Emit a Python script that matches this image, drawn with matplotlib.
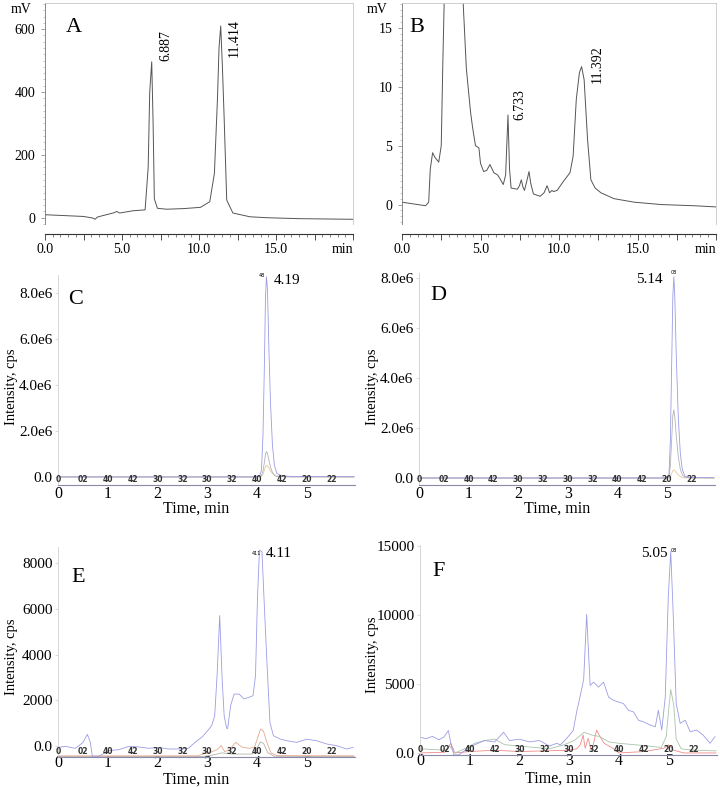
import matplotlib
matplotlib.use('Agg')
import matplotlib.pyplot as plt
from matplotlib.ticker import MultipleLocator, FixedLocator

plt.rcParams['font.family'] = ['Liberation Serif', 'DejaVu Serif']

W, H = 720, 787

# ---------------- Panel A (HPLC standard) ----------------
a_t = [0, 2.5, 3.1, 3.25, 3.4, 3.7, 4.5, 4.65, 4.85, 5.7, 6.5, 6.7, 6.8, 6.93, 7.02,
       7.1, 7.3, 7.9, 9.0, 10.1, 10.7, 11.0, 11.2, 11.3, 11.41, 11.52, 11.63, 11.8,
       12.2, 13.3, 14.4, 16.5, 20]
a_v = [9.5, 4, -1, -5, 2, 6, 16, 20, 15, 22, 25, 160, 400, 496, 300,
       60, 30, 27, 29, 33, 51, 141, 380, 540, 610, 480, 322, 56,
       15, 3, 0, -3, -5]
a_labels = ["6.887", "11.414"]

# ---------------- Panel B (HPLC sample) ----------------
b_t = [0, 1.5, 1.7, 1.8, 1.95, 2.1, 2.34, 2.5, 2.6, 2.7, 3.0, 3.5, 3.9, 4.1, 4.37,
       4.5, 4.68, 4.9, 5.0, 5.2, 5.4, 5.6, 5.85, 6.1, 6.28, 6.45, 6.6, 6.75, 6.85,
       6.95, 7.35, 7.48, 7.6, 7.7, 7.8, 7.95, 8.09, 8.2, 8.37, 8.8, 9.05, 9.24, 9.4,
       9.55, 9.66, 9.88, 10.3, 10.7, 10.9, 11.1, 11.3, 11.44, 11.6, 11.82, 12.03,
       12.3, 12.67, 13.5, 14.8, 16.5, 18.6, 20]
b_v = [0.2, -0.1, 0.2, 3.0, 4.4, 4.0, 3.6, 5.0, 12, 18, 28, 26, 17, 11.5, 7.8,
       6.5, 5.0, 4.8, 3.5, 2.8, 2.9, 3.4, 2.7, 2.5, 2.1, 1.7, 2.5, 7.6, 3.0,
       1.4, 1.3, 1.6, 2.1, 1.5, 1.2, 2.0, 2.8, 1.8, 0.9, 0.7, 1.0, 1.6, 1.0,
       1.2, 1.1, 1.2, 2.0, 2.7, 4.1, 8.9, 11.2, 11.7, 10.6, 5.5, 2.1,
       1.4, 1.0, 0.5, 0.2, 0.0, -0.1, -0.2]
b_labels = ["6.733", "11.392"]

# ---------------- Panel C (MRM standard 1) ----------------
c_t = [0, 3.9, 4.05, 4.09, 4.12, 4.15, 4.17, 4.19, 4.21, 4.24, 4.27, 4.31, 4.35,
       4.4, 4.5, 4.7, 5.95]
c_blue = [0, 0, 0.02e6, 0.3e6, 1.8e6, 5.0e6, 7.8e6, 8.7e6, 8.2e6, 5.5e6, 3.3e6,
          1.4e6, 0.5e6, 0.15e6, 0.05e6, 0.02e6, 0.01e6]
c_gray = [0, 0, 0.005e6, 0.05e6, 0.25e6, 0.65e6, 0.98e6, 1.1e6, 1.04e6, 0.72e6,
          0.44e6, 0.2e6, 0.07e6, 0.02e6, 0.008e6, 0, 0]
c_tan = [0, 0, 0.003e6, 0.03e6, 0.12e6, 0.3e6, 0.45e6, 0.5e6, 0.48e6, 0.38e6,
         0.27e6, 0.16e6, 0.08e6, 0.04e6, 0.015e6, 0.005e6, 0]

# ---------------- Panel D (MRM standard 2) ----------------
d_t = [0, 4.95, 5.04, 5.07, 5.1, 5.12, 5.14, 5.16, 5.19, 5.23, 5.27, 5.31, 5.36,
       5.45, 5.95]
d_blue = [0, 0, 0.05e6, 1.5e6, 5.0e6, 7.3e6, 8.05e6, 7.2e6, 4.8e6, 2.4e6, 1.0e6,
          0.35e6, 0.08e6, 0.02e6, 0.01e6]
d_gray = [0, 0, 0.02e6, 0.5e6, 1.7e6, 2.5e6, 2.72e6, 2.45e6, 1.65e6, 0.85e6,
          0.36e6, 0.12e6, 0.03e6, 0.01e6, 0]
d_tan = [0, 0, 0.003e6, 0.06e6, 0.2e6, 0.29e6, 0.32e6, 0.3e6, 0.22e6, 0.12e6,
         0.06e6, 0.02e6, 0.005e6, 0, 0]

# ---------------- Panel E (MRM sample 1) ----------------
e_blue_t = [0, 0.15, 0.35, 0.5, 0.59, 0.65, 0.69, 0.82, 1.02, 1.22, 1.42, 1.62,
            1.82, 2.02, 2.22, 2.49, 2.62, 2.75, 2.9, 3.02, 3.09, 3.15, 3.2, 3.25,
            3.30, 3.34, 3.39, 3.41, 3.47, 3.54, 3.64, 3.74, 3.84, 3.92, 3.97, 4.01,
            4.05, 4.10, 4.14, 4.20, 4.26, 4.33, 4.47, 4.6, 4.8, 5.0, 5.2, 5.4, 5.6,
            5.8, 5.93]
e_blue_v = [-60, -15, -100, 150, 510, 160, -450, -450, -200, -160, -15, -40,
            -100, -60, -130, -130, -100, 150, 400, 700, 900, 1320, 3200, 5700,
            2900, 1320, 780, 760, 1770, 2270, 2270, 2060, 2130, 2200, 3070, 6500,
            8560, 8500, 6500, 3650, 1030, 450, 300, 230, 160, 300, 230, 90, 15,
            -130, -60]
e_org_t = [0, 2.8, 2.95, 3.1, 3.2, 3.28, 3.35, 3.45, 3.57, 3.7, 3.85, 3.95, 4.02,
           4.07, 4.13, 4.2, 4.28, 4.4, 5.95]
e_org_v = [-430, -430, -330, -250, -150, 20, -250, -150, 160, -50, -100, -50, 400,
           740, 650, 150, -300, -420, -430]
e_gray_t = [0, 2.9, 3.1, 3.3, 3.5, 3.9, 4.0, 4.07, 4.13, 4.22, 4.35, 5.95]
e_gray_v = [-460, -460, -400, -300, -350, -350, -100, 180, 120, -300, -450, -460]

# ---------------- Panel F (MRM sample 2) ----------------
f_blue_t = [0, 0.12, 0.25, 0.38, 0.48, 0.57, 0.62, 0.68, 0.78, 0.92, 1.1, 1.3,
            1.5, 1.68, 1.8, 2.0, 2.2, 2.4, 2.6, 2.75, 2.82, 2.95, 3.08, 3.15, 3.22,
            3.29, 3.35, 3.42, 3.49, 3.59, 3.69, 3.79, 3.89, 3.99, 4.09, 4.19, 4.29,
            4.39, 4.49, 4.63, 4.73, 4.79, 4.86, 4.93, 4.99, 5.04, 5.09, 5.15, 5.23,
            5.33, 5.43, 5.56, 5.69, 5.83, 5.93]
f_blue_v = [1150, 1030, 1200, 960, 1150, 1630, 700, -140, -140, 220, 600, 900,
            800, 1500, 900, 1000, 800, 900, 500, 700, 580, 1060, 1630, 3010, 4130,
            5330, 10070, 4900, 5140, 4780, 5140, 4060, 3820, 3700, 3580, 3100, 2980,
            2380, 2260, 2020, 1900, 3100, 1660, 4060, 11270, 14640, 10070, 3580, 2140,
            2380, 1540, 1660, 1300, 700, 1180]
f_gray_t = [0, 0.5, 0.6, 0.7, 0.9, 1.1, 1.3, 1.5, 1.7, 2.0, 2.3, 2.6, 2.9, 3.1,
            3.3, 3.45, 3.6, 3.8, 4.0, 4.3, 4.6, 4.85, 4.95, 5.0, 5.04, 5.1, 5.15,
            5.25, 5.5, 5.95]
f_gray_v = [300, 200, 500, 0, 300, 700, 900, 1000, 600, 500, 400, 300, 600, 900,
            1500, 1300, 1200, 800, 700, 600, 500, 400, 1200, 3200, 4600, 3500, 1000,
            300, 200, 150]
f_red_t = [0, 0.5, 0.62, 0.7, 1.0, 1.5, 2.0, 2.5, 3.0, 3.15, 3.22, 3.28, 3.32,
           3.38, 3.45, 3.55, 3.6, 3.7, 3.85, 4.0, 4.5, 4.9, 5.0, 5.1, 5.3, 5.95]
f_red_v = [0, 50, 700, 0, 100, 200, 100, 150, 200, 300, 580, 1300, 340, 1060, 100,
           1660, 1300, 700, 400, 0, 100, 340, 580, 200, 0, 0]

small_pos = [0, 0.5, 1.0, 1.5, 2.0, 2.5, 3.0, 3.5, 4.0, 4.5, 5.0, 5.5]
small_lbl = ["0", "02", "40", "42", "30", "32", "30", "32", "40", "42", "20", "22"]

BLUE = '#9c9ce6'
GRAY = '#b3b3b3'
TAN = '#e6c8a0'
ORANGE = '#e6a88e'
RED = '#f08a8a'
GREEN = '#a9c4a9'
LINE = '#555555'

fig = plt.figure(figsize=(W / 100, H / 100), dpi=100)


def ax_px(l, t, r, b):
    return fig.add_axes([l / W, 1 - b / H, (r - l) / W, (b - t) / H])


def hplc_axes(ax, ylim, yticks, ymin_step, letter, lx):
    ax.set_xlim(0, 20)
    ax.set_ylim(*ylim)
    for s in ('top', 'right'):
        ax.spines[s].set_color('#c8c8c8')
        ax.spines[s].set_linewidth(0.6)
    ax.spines['left'].set_color('#777777')
    ax.spines['left'].set_linewidth(0.6)
    ax.spines['bottom'].set_color('#333333')
    ax.spines['bottom'].set_linewidth(0.8)
    ax.spines['bottom'].set_position(('outward', 7))
    ax.xaxis.set_major_locator(MultipleLocator(2.5))
    ax.xaxis.set_minor_locator(MultipleLocator(0.5))
    ax.set_xticklabels([])
    ax.yaxis.set_major_locator(FixedLocator(yticks))
    ax.yaxis.set_minor_locator(MultipleLocator(ymin_step))
    ax.tick_params(axis='x', which='major', length=4, width=0.6, color='#333333',
                   labelbottom=False)
    ax.tick_params(axis='x', which='minor', length=2, width=0.5, color='#555555')
    ax.tick_params(axis='y', which='major', length=3, width=0.5, color='#777777',
                   labelsize=10, pad=4)
    ax.tick_params(axis='y', which='minor', length=1.5, width=0.4, color='#999999')
    for v in [0, 5, 10, 15]:
        ax.annotate(f"{v:.1f}", xy=(v, 0), xycoords=('data', 'axes fraction'),
                    xytext=(0, -14), textcoords='offset points', ha='center',
                    va='top', fontsize=10)
    ax.annotate("min", xy=(20, 0), xycoords=('data', 'axes fraction'),
                xytext=(0, -14), textcoords='offset points', ha='right',
                va='top', fontsize=10)
    ax.text(-0.045, 1.0, "mV", transform=ax.transAxes, ha='right', va='top',
            fontsize=10)
    ax.text(lx, 0.93, letter, transform=ax.transAxes, ha='left', va='top',
            fontsize=16)


# Panel A
axA = ax_px(45, 3, 353, 224)
axA.plot(a_t, a_v, color=LINE, lw=0.7)
hplc_axes(axA, (-20, 683), [0, 200, 400, 600], 20, "A", 0.068)
axA.text(7.45, 500, a_labels[0], rotation=90, ha='left', va='bottom', fontsize=10)
axA.text(11.85, 512, a_labels[1], rotation=90, ha='left', va='bottom', fontsize=10)
axA.set_yticklabels(["0", "200", "400", "600"])

# Panel B
axB = ax_px(402, 3, 716, 224)
axB.plot(b_t, b_v, color=LINE, lw=0.7)
hplc_axes(axB, (-1.65, 17.1), [0, 5, 10, 15], 0.5, "B", 0.025)
axB.text(7.1, 7.2, b_labels[0], rotation=90, ha='left', va='bottom', fontsize=10)
axB.text(12.0, 10.3, b_labels[1], rotation=90, ha='left', va='bottom', fontsize=10)
axB.set_yticklabels(["0", "5", "10", "15"])


def ms_axes(ax, ylim, yticks, ylabels, letter, lx, ly, xpad, tpx):
    ax.set_xlim(0, 5.97)
    ax.set_ylim(*ylim)
    for s in ('top', 'right'):
        ax.spines[s].set_visible(False)
    ax.spines['left'].set_color('#d0d0d0')
    ax.spines['left'].set_linewidth(0.6)
    ax.spines['bottom'].set_color('#8a8aa8')
    ax.spines['bottom'].set_linewidth(0.8)
    ax.set_xticks([0, 1, 2, 3, 4, 5])
    ax.set_xticklabels(["0", "1", "2", "3", "4", "5"])
    ax.set_yticks(yticks)
    ax.set_yticklabels(ylabels)
    ax.tick_params(axis='x', length=0, labelsize=11.5, pad=xpad)
    ax.tick_params(axis='y', length=2, width=0.5, color='#cccccc', labelsize=11,
                   pad=2)
    for p, s in zip(small_pos, small_lbl):
        ax.text(p, 0.003, s, transform=ax.get_xaxis_transform(), ha='center',
                va='bottom', fontsize=5.5, family='DejaVu Sans', weight='bold',
                color='#333333')
    ax.text(lx, ly, letter, transform=ax.transAxes, ha='left', va='top',
            fontsize=16)
    ax.annotate("Time, min", xy=(0.465, 0), xycoords='axes fraction',
                xytext=(0, -tpx * 0.72), textcoords='offset points',
                ha='center', va='center', fontsize=11.5)


# Panel C
axC = ax_px(58, 275, 355, 485)
axC.plot(c_t, c_tan, color=TAN, lw=0.6)
axC.plot(c_t, c_gray, color=GRAY, lw=0.6)
axC.plot(c_t, c_blue, color=BLUE, lw=0.6)
ms_axes(axC, (-0.35e6, 8.78e6), [0, 2e6, 4e6, 6e6, 8e6],
        ["0.0", "2.0e6", "4.0e6", "6.0e6", "8.0e6"], "C", 0.033, 0.93, 1, 24)
axC.text(4.33, 8.55e6, "4.19", ha='left', va='center', fontsize=11, clip_on=False)
axC.text(4.1, 8.75e6, "48", ha='center', va='center', fontsize=3.5,
         family='DejaVu Sans', clip_on=False)

# Panel D
axD = ax_px(419, 273, 715, 485)
axD.plot(d_t, d_tan, color=TAN, lw=0.6)
axD.plot(d_t, d_gray, color=GRAY, lw=0.6)
axD.plot(d_t, d_blue, color=BLUE, lw=0.6)
ms_axes(axD, (-0.28e6, 8.2e6), [0, 2e6, 4e6, 6e6, 8e6],
        ["0.0", "2.0e6", "4.0e6", "6.0e6", "8.0e6"], "D", 0.04, 0.94, 1, 24)
axD.text(4.92, 7.95e6, "5.14", ha='right', va='center', fontsize=11, clip_on=False)
axD.text(5.14, 8.2e6, "08", ha='center', va='center', fontsize=3.5,
         family='DejaVu Sans', clip_on=False)

# Panel E
axE = ax_px(58, 547, 355, 757)
axE.plot(e_gray_t, e_gray_v, color=GRAY, lw=0.6)
axE.plot(e_org_t, e_org_v, color=ORANGE, lw=0.6)
axE.plot(e_blue_t, e_blue_v, color=BLUE, lw=0.6)
ms_axes(axE, (-480, 8700), [0, 2000, 4000, 6000, 8000],
        ["0.0", "2000", "4000", "6000", "8000"], "E", 0.045, 0.9, -1.5, 22.5)
axE.text(4.17, 8420, "4.11", ha='left', va='center', fontsize=11, clip_on=False)
axE.text(3.98, 8420, "411", ha='center', va='center', fontsize=3.5,
         family='DejaVu Sans', clip_on=False)

# Panel F
axF = ax_px(420, 545, 717, 755)
axF.plot(f_red_t, f_red_v, color=RED, lw=0.6)
axF.plot(f_gray_t, f_gray_v, color=GREEN, lw=0.6)
axF.plot(f_blue_t, f_blue_v, color=BLUE, lw=0.6)
ms_axes(axF, (-150, 15100), [0, 5000, 10000, 15000],
        ["0.0", "5000", "10000", "15000"], "F", 0.04, 0.92, -1.5, 23.5)
axF.text(4.98, 14500, "5.05", ha='right', va='center', fontsize=11, clip_on=False)
axF.text(5.04, 14700, "08", ha='left', va='center', fontsize=3.5,
         family='DejaVu Sans', clip_on=False)

# y-axis labels for MS panels
for x, y in [(12, 387), (372, 387), (12, 657), (372, 655)]:
    fig.text(x / W, 1 - y / H, "Intensity, cps", rotation=90, ha='center',
             va='center', fontsize=10.5)

fig.savefig("out.png", dpi=100)
